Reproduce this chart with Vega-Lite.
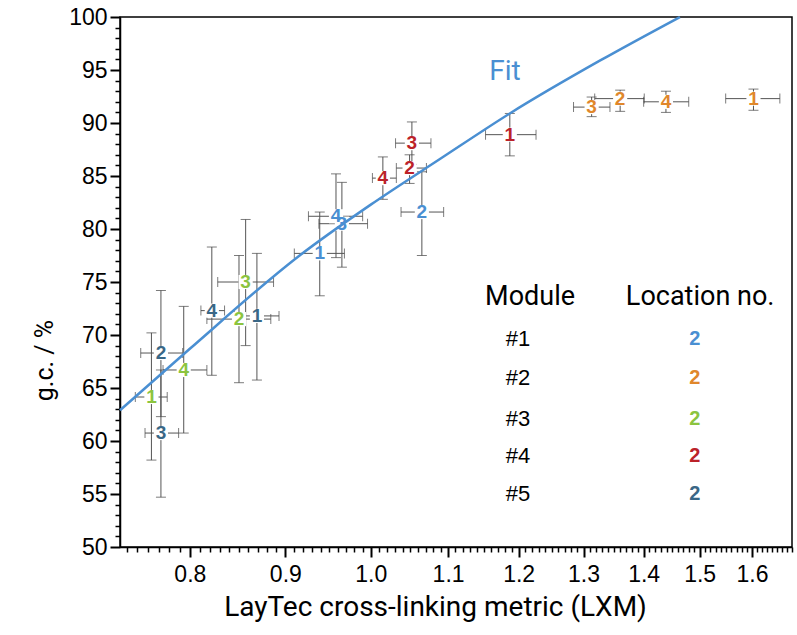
{
  "$schema": "https://vega.github.io/schema/vega-lite/v6.json",
  "width": 672,
  "height": 530,
  "autosize": "none",
  "padding": {"left": 120, "top": 17, "right": 5, "bottom": 88},
  "background": "white",
  "config": {"view": {"stroke": "black", "strokeWidth": 1.5}, "font": "Liberation Sans", "axis": {"labelOverlap": false, "labelSeparation": 0}},
  "datasets": {
    "pts": [
      {"module": "#1", "loc": "1", "x": 0.939, "y": 77.7, "xlo": 0.910, "xhi": 0.968, "ylo": 73.7, "yhi": 81.6},
      {"module": "#1", "loc": "2", "x": 1.065, "y": 81.6, "xlo": 1.038, "xhi": 1.094, "ylo": 77.5, "yhi": 85.4},
      {"module": "#1", "loc": "3", "x": 0.965, "y": 80.5, "xlo": 0.938, "xhi": 0.996, "ylo": 76.4, "yhi": 84.4},
      {"module": "#1", "loc": "4", "x": 0.958, "y": 81.2, "xlo": 0.926, "xhi": 0.990, "ylo": 77.3, "yhi": 85.2},
      {"module": "#2", "loc": "1", "x": 1.603, "y": 92.3, "xlo": 1.549, "xhi": 1.656, "ylo": 91.2, "yhi": 93.2},
      {"module": "#2", "loc": "2", "x": 1.360, "y": 92.3, "xlo": 1.318, "xhi": 1.401, "ylo": 91.1, "yhi": 93.1},
      {"module": "#2", "loc": "3", "x": 1.313, "y": 91.5, "xlo": 1.284, "xhi": 1.343, "ylo": 90.6, "yhi": 92.45},
      {"module": "#2", "loc": "4", "x": 1.439, "y": 92.0, "xlo": 1.400, "xhi": 1.480, "ylo": 91.0, "yhi": 93.0},
      {"module": "#3", "loc": "1", "x": 0.763, "y": 64.15, "xlo": 0.748, "xhi": 0.778, "ylo": 58.2, "yhi": 70.2},
      {"module": "#3", "loc": "2", "x": 0.850, "y": 71.5, "xlo": 0.817, "xhi": 0.884, "ylo": 65.5, "yhi": 77.5},
      {"module": "#3", "loc": "3", "x": 0.857, "y": 75.0, "xlo": 0.828, "xhi": 0.887, "ylo": 69.0, "yhi": 80.9},
      {"module": "#3", "loc": "4", "x": 0.794, "y": 66.7, "xlo": 0.774, "xhi": 0.817, "ylo": 60.75, "yhi": 72.7},
      {"module": "#4", "loc": "1", "x": 1.187, "y": 88.9, "xlo": 1.152, "xhi": 1.226, "ylo": 86.9, "yhi": 90.9},
      {"module": "#4", "loc": "2", "x": 1.049, "y": 85.75, "xlo": 1.032, "xhi": 1.071, "ylo": 84.3, "yhi": 87.0},
      {"module": "#4", "loc": "3", "x": 1.052, "y": 88.1, "xlo": 1.031, "xhi": 1.077, "ylo": 86.1, "yhi": 90.1},
      {"module": "#4", "loc": "4", "x": 1.015, "y": 84.8, "xlo": 1.002, "xhi": 1.032, "ylo": 82.8, "yhi": 86.8},
      {"module": "#5", "loc": "1", "x": 0.869, "y": 71.8, "xlo": 0.845, "xhi": 0.893, "ylo": 65.75, "yhi": 77.7},
      {"module": "#5", "loc": "2", "x": 0.772, "y": 68.3, "xlo": 0.753, "xhi": 0.793, "ylo": 62.3, "yhi": 74.2},
      {"module": "#5", "loc": "3", "x": 0.772, "y": 60.75, "xlo": 0.757, "xhi": 0.789, "ylo": 54.7, "yhi": 66.7},
      {"module": "#5", "loc": "4", "x": 0.822, "y": 72.3, "xlo": 0.811, "xhi": 0.835, "ylo": 66.2, "yhi": 78.3}
    ],
    "fit": [
      {"x": 0.734, "y": 62.9},
      {"x": 0.8, "y": 68.7},
      {"x": 0.916, "y": 77.5},
      {"x": 1.0, "y": 82.3},
      {"x": 1.089, "y": 86.6},
      {"x": 1.187, "y": 90.9},
      {"x": 1.327, "y": 95.9},
      {"x": 1.464, "y": 100.0}
    ],
    "legend": [
      {"module": "#1", "loc": "2", "mx": 1.199, "lx": 1.491, "ly": 69.6},
      {"module": "#2", "loc": "2", "mx": 1.199, "lx": 1.491, "ly": 65.9},
      {"module": "#3", "loc": "2", "mx": 1.199, "lx": 1.491, "ly": 62.1},
      {"module": "#4", "loc": "2", "mx": 1.199, "lx": 1.491, "ly": 58.6},
      {"module": "#5", "loc": "2", "mx": 1.199, "lx": 1.491, "ly": 55.0}
    ],
    "heads": [
      {"label": "Module", "x": 1.217, "y": 73.6},
      {"label": "Location no.", "x": 1.501, "y": 73.6}
    ],
    "fitlabel": [
      {"label": "Fit", "x": 1.180, "y": 94.8}
    ]
  },
  "layer": [
    {
      "data": {"name": "pts"},
      "mark": {"type": "rule", "color": "#555555", "strokeWidth": 1},
      "encoding": {
        "x": {
          "field": "xlo", "type": "quantitative",
          "scale": {"type": "log", "domain": [0.734, 1.681], "nice": false},
          "axis": {
            "title": "LayTec cross-linking metric (LXM)",
            "titleFont": "Roboto",
            "titleFontSize": 28, "titleFontWeight": "normal", "titleColor": "black",
            "titleX": 315, "titleY": 68, "titleBaseline": "alphabetic",
            "tickCount": 200,
            "values": [0.74,0.75,0.76,0.77,0.78,0.79,0.8,0.81,0.82,0.83,0.84,0.85,0.86,0.87,0.88,0.89,0.9,0.91,0.92,0.93,0.94,0.95,0.96,0.97,0.98,0.99,1.0,1.01,1.02,1.03,1.04,1.05,1.06,1.07,1.08,1.09,1.1,1.11,1.12,1.13,1.14,1.15,1.16,1.17,1.18,1.19,1.2,1.21,1.22,1.23,1.24,1.25,1.26,1.27,1.28,1.29,1.3,1.31,1.32,1.33,1.34,1.35,1.36,1.37,1.38,1.39,1.4,1.41,1.42,1.43,1.44,1.45,1.46,1.47,1.48,1.49,1.5,1.51,1.52,1.53,1.54,1.55,1.56,1.57,1.58,1.59,1.6,1.61,1.62,1.63,1.64,1.65,1.66,1.67,1.68],
            "labelExpr": "abs(datum.value*10 - round(datum.value*10)) < 0.0001 ? format(datum.value, '.1f') : ''",
            "labelFontSize": 23, "labelColor": "black", "labelPadding": 6, "labelFlush": false, "labelOverlap": false,
            "domainColor": "black", "domainWidth": 1.5,
            "tickColor": "black",
            "tickWidth": {"condition": {"test": "abs(datum.value*10 - round(datum.value*10)) < 0.0001", "value": 2}, "value": 1.5},
            "tickSize": {"condition": {"test": "abs(datum.value*10 - round(datum.value*10)) < 0.0001", "value": 10}, "value": 5},
            "grid": false
          }
        },
        "x2": {"field": "xhi"},
        "y": {
          "field": "y", "type": "quantitative",
          "scale": {"domain": [50, 100], "nice": false, "zero": false},
          "axis": {
            "title": "g.c. / %",
            "titleFont": "Roboto",
            "titleFontSize": 25, "titleFontWeight": "normal", "titleColor": "black",
            "titleX": -68, "titleY": 343, "titleAngle": -90, "titleBaseline": "alphabetic", "titleAlign": "center",
            "tickCount": 200,
            "values": [50,51,52,53,54,55,56,57,58,59,60,61,62,63,64,65,66,67,68,69,70,71,72,73,74,75,76,77,78,79,80,81,82,83,84,85,86,87,88,89,90,91,92,93,94,95,96,97,98,99,100],
            "labelExpr": "datum.value % 5 === 0 ? format(datum.value, 'd') : ''",
            "labelFontSize": 23, "labelColor": "black", "labelPadding": 3, "labelFlush": false, "labelOverlap": false,
            "domainColor": "black", "domainWidth": 1.5,
            "tickColor": "black",
            "tickWidth": {"condition": {"test": "datum.value % 5 === 0", "value": 2}, "value": 1.5},
            "tickSize": {"condition": {"test": "datum.value % 5 === 0", "value": 10}, "value": 5},
            "grid": false
          }
        }
      }
    },
    {
      "data": {"name": "pts"},
      "mark": {"type": "rule", "color": "#555555", "strokeWidth": 1},
      "encoding": {
        "x": {"field": "x", "type": "quantitative"},
        "y": {"field": "ylo", "type": "quantitative"},
        "y2": {"field": "yhi"}
      }
    },
    {
      "data": {"name": "pts"},
      "mark": {"type": "tick", "orient": "vertical", "color": "#444444", "thickness": 1, "size": 10},
      "encoding": {"x": {"field": "xlo", "type": "quantitative"}, "y": {"field": "y", "type": "quantitative"}}
    },
    {
      "data": {"name": "pts"},
      "mark": {"type": "tick", "orient": "vertical", "color": "#444444", "thickness": 1, "size": 10},
      "encoding": {"x": {"field": "xhi", "type": "quantitative"}, "y": {"field": "y", "type": "quantitative"}}
    },
    {
      "data": {"name": "pts"},
      "mark": {"type": "tick", "orient": "horizontal", "color": "#444444", "thickness": 1, "size": 10},
      "encoding": {"x": {"field": "x", "type": "quantitative"}, "y": {"field": "ylo", "type": "quantitative"}}
    },
    {
      "data": {"name": "pts"},
      "mark": {"type": "tick", "orient": "horizontal", "color": "#444444", "thickness": 1, "size": 10},
      "encoding": {"x": {"field": "x", "type": "quantitative"}, "y": {"field": "yhi", "type": "quantitative"}}
    },
    {
      "data": {"name": "pts"},
      "mark": {"type": "square", "filled": true, "color": "white", "opacity": 1, "size": 200},
      "encoding": {"x": {"field": "x", "type": "quantitative"}, "y": {"field": "y", "type": "quantitative"}}
    },
    {
      "data": {"name": "fit"},
      "mark": {"type": "line", "color": "#4a8fd2", "strokeWidth": 2.5, "interpolate": "monotone"},
      "encoding": {"x": {"field": "x", "type": "quantitative"}, "y": {"field": "y", "type": "quantitative"}}
    },
    {
      "data": {"name": "pts"},
      "mark": {"type": "text", "font": "Liberation Sans", "fontSize": 19, "fontWeight": "bold", "baseline": "middle", "align": "center"},
      "encoding": {
        "x": {"field": "x", "type": "quantitative"},
        "y": {"field": "y", "type": "quantitative"},
        "text": {"field": "loc"},
        "color": {"field": "module", "type": "nominal", "scale": {"domain": ["#1", "#2", "#3", "#4", "#5"], "range": ["#4a8fd2", "#e0872b", "#8cc43f", "#bb2229", "#3a6786"]}, "legend": null}
      }
    },
    {
      "data": {"name": "legend"},
      "mark": {"type": "text", "font": "Liberation Sans", "fontSize": 22, "baseline": "middle", "align": "center", "color": "black"},
      "encoding": {
        "x": {"field": "mx", "type": "quantitative"},
        "y": {"field": "ly", "type": "quantitative"},
        "text": {"field": "module"}
      }
    },
    {
      "data": {"name": "legend"},
      "mark": {"type": "text", "font": "Liberation Sans", "fontSize": 20, "fontWeight": "bold", "baseline": "middle", "align": "center"},
      "encoding": {
        "x": {"field": "lx", "type": "quantitative"},
        "y": {"field": "ly", "type": "quantitative"},
        "text": {"field": "loc"},
        "color": {"field": "module", "type": "nominal", "legend": null}
      }
    },
    {
      "data": {"name": "heads"},
      "mark": {"type": "text", "font": "Roboto", "fontSize": 27, "baseline": "middle", "align": "center", "color": "black"},
      "encoding": {
        "x": {"field": "x", "type": "quantitative"},
        "y": {"field": "y", "type": "quantitative"},
        "text": {"field": "label"}
      }
    },
    {
      "data": {"name": "fitlabel"},
      "mark": {"type": "text", "font": "Roboto", "fontSize": 28, "baseline": "middle", "align": "center", "color": "#4a8fd2"},
      "encoding": {
        "x": {"field": "x", "type": "quantitative"},
        "y": {"field": "y", "type": "quantitative"},
        "text": {"field": "label"}
      }
    }
  ]
}
